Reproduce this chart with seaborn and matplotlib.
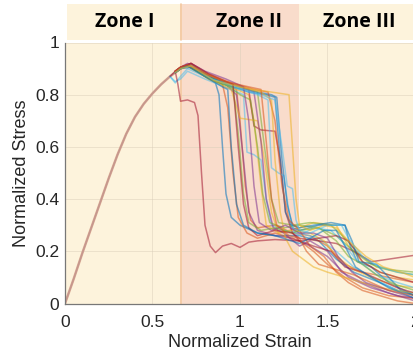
import numpy as np
import pandas as pd
import matplotlib
matplotlib.use("Agg")
import matplotlib.pyplot as plt
from matplotlib.patches import Rectangle
import seaborn as sns

# ---------------- data ----------------
elastic_strain = [0.0, 0.05, 0.10, 0.15, 0.20, 0.25, 0.30, 0.35, 0.40, 0.45, 0.50, 0.55, 0.60, 0.63, 0.66]
elastic_stress = [0.0, 0.095, 0.195, 0.29, 0.385, 0.48, 0.57, 0.65, 0.715, 0.765, 0.805, 0.84, 0.87, 0.885, 0.90]

strain_01 = [0.63, 0.66, 0.70, 0.78, 0.86, 0.88, 0.90, 0.92, 0.95, 1.00, 1.10, 1.20, 1.34, 1.45, 1.55, 1.65, 1.80, 1.90, 2.00]
stress_01 = [0.885, 0.90, 0.915, 0.88, 0.845, 0.80, 0.60, 0.42, 0.33, 0.30, 0.27, 0.26, 0.26, 0.24, 0.17, 0.12, 0.08, 0.05, 0.03]
strain_02 = [0.63, 0.66, 0.72, 0.80, 0.92, 0.98, 1.00, 1.03, 1.06, 1.10, 1.20, 1.30, 1.40, 1.50, 1.60, 1.70, 1.85, 2.00]
stress_02 = [0.89, 0.905, 0.92, 0.88, 0.84, 0.82, 0.70, 0.45, 0.32, 0.29, 0.30, 0.27, 0.26, 0.22, 0.15, 0.12, 0.10, 0.08]
strain_03 = [0.63, 0.66, 0.71, 0.80, 0.95, 1.05, 1.08, 1.12, 1.15, 1.22, 1.34, 1.42, 1.55, 1.62, 1.70, 1.80, 1.90, 2.00]
stress_03 = [0.885, 0.90, 0.91, 0.87, 0.83, 0.80, 0.70, 0.45, 0.30, 0.27, 0.29, 0.31, 0.30, 0.22, 0.16, 0.12, 0.10, 0.09]
strain_04 = [0.63, 0.66, 0.70, 0.78, 0.90, 0.98, 1.02, 1.05, 1.10, 1.20, 1.30, 1.40, 1.50, 1.62, 1.75, 1.90, 2.00]
stress_04 = [0.89, 0.905, 0.92, 0.89, 0.85, 0.80, 0.55, 0.35, 0.28, 0.26, 0.25, 0.22, 0.18, 0.10, 0.06, 0.03, 0.02]
strain_05 = [0.63, 0.66, 0.72, 0.82, 0.95, 1.10, 1.14, 1.18, 1.22, 1.30, 1.40, 1.52, 1.60, 1.68, 1.78, 1.90, 2.00]
stress_05 = [0.885, 0.90, 0.91, 0.86, 0.83, 0.81, 0.60, 0.40, 0.31, 0.30, 0.31, 0.30, 0.25, 0.19, 0.14, 0.12, 0.11]
strain_06 = [0.60, 0.63, 0.66, 0.70, 0.80, 0.95, 1.02, 1.04, 1.08, 1.12, 1.15, 1.18, 1.25, 1.34, 1.45, 1.55, 1.65, 1.78, 1.90, 2.00]
stress_06 = [0.87, 0.85, 0.86, 0.89, 0.86, 0.82, 0.80, 0.58, 0.57, 0.55, 0.40, 0.30, 0.28, 0.27, 0.25, 0.20, 0.14, 0.09, 0.05, 0.04]
strain_07 = [0.63, 0.66, 0.72, 0.82, 0.95, 1.05, 1.08, 1.12, 1.20, 1.23, 1.26, 1.30, 1.34, 1.45, 1.55, 1.65, 1.75, 1.85, 2.00]
stress_07 = [0.89, 0.905, 0.915, 0.87, 0.84, 0.82, 0.68, 0.665, 0.66, 0.55, 0.35, 0.27, 0.25, 0.24, 0.23, 0.20, 0.16, 0.17, 0.185]
strain_08 = [0.63, 0.66, 0.71, 0.80, 0.92, 1.05, 1.15, 1.20, 1.23, 1.26, 1.30, 1.34, 1.45, 1.60, 1.63, 1.67, 1.75, 1.85, 2.00]
stress_08 = [0.885, 0.90, 0.915, 0.88, 0.84, 0.81, 0.80, 0.79, 0.55, 0.35, 0.29, 0.28, 0.30, 0.30, 0.22, 0.16, 0.14, 0.08, 0.03]
strain_09 = [0.63, 0.66, 0.70, 0.80, 0.90, 0.93, 0.96, 0.99, 1.04, 1.10, 1.20, 1.34, 1.42, 1.50, 1.60, 1.70, 1.85, 2.00]
stress_09 = [0.89, 0.90, 0.91, 0.87, 0.84, 0.75, 0.50, 0.33, 0.27, 0.25, 0.27, 0.24, 0.20, 0.15, 0.10, 0.06, 0.03, 0.02]
strain_10 = [0.63, 0.66, 0.72, 0.82, 0.95, 1.00, 1.10, 1.14, 1.18, 1.22, 1.30, 1.40, 1.48, 1.55, 1.65, 1.75, 1.88, 2.00]
stress_10 = [0.89, 0.905, 0.91, 0.86, 0.82, 0.71, 0.70, 0.55, 0.35, 0.27, 0.28, 0.27, 0.24, 0.18, 0.13, 0.10, 0.07, 0.06]
strain_11 = [0.63, 0.66, 0.72, 0.85, 1.00, 1.08, 1.12, 1.15, 1.19, 1.25, 1.34, 1.40, 1.50, 1.58, 1.70, 1.85, 2.00]
stress_11 = [0.885, 0.90, 0.915, 0.86, 0.83, 0.81, 0.62, 0.40, 0.29, 0.27, 0.22, 0.24, 0.20, 0.12, 0.08, 0.04, 0.01]
strain_12 = [0.63, 0.66, 0.70, 0.80, 0.92, 1.00, 1.06, 1.10, 1.13, 1.17, 1.25, 1.34, 1.45, 1.55, 1.65, 1.75, 1.85, 2.00]
stress_12 = [0.885, 0.90, 0.91, 0.875, 0.84, 0.80, 0.78, 0.60, 0.42, 0.31, 0.29, 0.30, 0.29, 0.26, 0.20, 0.15, 0.13, 0.12]
strain_13 = [0.60, 0.63, 0.66, 0.70, 0.80, 0.95, 1.10, 1.16, 1.18, 1.22, 1.25, 1.28, 1.31, 1.34, 1.42, 1.52, 1.58, 1.66, 1.78, 1.90, 2.00]
stress_13 = [0.87, 0.845, 0.87, 0.90, 0.87, 0.83, 0.80, 0.78, 0.52, 0.50, 0.49, 0.35, 0.27, 0.26, 0.29, 0.28, 0.24, 0.17, 0.11, 0.08, 0.06]
strain_14 = [0.60, 0.63, 0.645, 0.66, 0.70, 0.74, 0.76, 0.78, 0.80, 0.83, 0.86, 0.90, 0.95, 1.00, 1.05, 1.10, 1.20, 1.34, 1.45, 1.55, 1.62, 1.70, 1.80, 1.90, 2.00]
stress_14 = [0.87, 0.89, 0.84, 0.775, 0.78, 0.77, 0.72, 0.50, 0.30, 0.22, 0.195, 0.22, 0.23, 0.215, 0.235, 0.24, 0.245, 0.24, 0.25, 0.26, 0.24, 0.16, 0.12, 0.10, 0.08]
strain_15 = [0.63, 0.66, 0.72, 0.85, 1.00, 1.10, 1.18, 1.21, 1.24, 1.27, 1.30, 1.34, 1.42, 1.52, 1.60, 1.64, 1.68, 1.78, 1.85, 1.92, 2.00]
stress_15 = [0.885, 0.90, 0.905, 0.86, 0.83, 0.81, 0.80, 0.79, 0.55, 0.38, 0.30, 0.29, 0.30, 0.31, 0.30, 0.24, 0.16, 0.15, 0.10, 0.05, 0.03]
strain_16 = [0.63, 0.66, 0.72, 0.82, 0.95, 1.08, 1.16, 1.20, 1.24, 1.28, 1.34, 1.40, 1.48, 1.55, 1.62, 1.70, 1.80, 1.90, 2.00]
stress_16 = [0.89, 0.905, 0.92, 0.88, 0.845, 0.82, 0.81, 0.70, 0.45, 0.32, 0.28, 0.22, 0.18, 0.12, 0.08, 0.05, 0.03, 0.01, 0.0]
strain_17 = [0.63, 0.66, 0.72, 0.82, 0.95, 1.05, 1.12, 1.18, 1.20, 1.23, 1.26, 1.30, 1.34, 1.42, 1.50, 1.60, 1.70, 1.80, 2.00]
stress_17 = [0.885, 0.90, 0.915, 0.875, 0.84, 0.82, 0.81, 0.78, 0.55, 0.35, 0.25, 0.20, 0.18, 0.14, 0.12, 0.10, 0.08, 0.06, 0.04]
strain_18 = [0.63, 0.66, 0.72, 0.80, 0.92, 1.02, 1.05, 1.08, 1.11, 1.18, 1.26, 1.34, 1.42, 1.50, 1.56, 1.64, 1.72, 1.85, 2.00]
stress_18 = [0.89, 0.905, 0.92, 0.89, 0.86, 0.83, 0.70, 0.45, 0.31, 0.28, 0.30, 0.27, 0.27, 0.25, 0.18, 0.12, 0.08, 0.05, 0.02]
strain_19 = [0.63, 0.66, 0.70, 0.80, 0.90, 0.96, 0.99, 1.02, 1.05, 1.12, 1.20, 1.30, 1.34, 1.45, 1.55, 1.62, 1.70, 1.80, 1.90, 2.00]
stress_19 = [0.885, 0.90, 0.91, 0.87, 0.84, 0.83, 0.65, 0.42, 0.31, 0.28, 0.29, 0.27, 0.28, 0.29, 0.24, 0.18, 0.15, 0.10, 0.07, 0.05]
strain_20 = [0.63, 0.66, 0.72, 0.84, 0.98, 1.12, 1.20, 1.24, 1.27, 1.30, 1.32, 1.34, 1.40, 1.50, 1.58, 1.62, 1.70, 1.80, 1.90, 2.00]
stress_20 = [0.885, 0.90, 0.91, 0.86, 0.83, 0.80, 0.78, 0.60, 0.45, 0.44, 0.32, 0.28, 0.27, 0.30, 0.30, 0.25, 0.18, 0.14, 0.12, 0.11]
strain_21 = [0.63, 0.66, 0.72, 0.82, 0.92, 0.96, 0.99, 1.02, 1.05, 1.10, 1.20, 1.30, 1.34, 1.42, 1.52, 1.60, 1.70, 1.80, 1.90, 2.00]
stress_21 = [0.89, 0.905, 0.92, 0.88, 0.85, 0.84, 0.60, 0.38, 0.29, 0.26, 0.28, 0.27, 0.24, 0.22, 0.20, 0.14, 0.12, 0.09, 0.06, 0.04]
strain_22 = [0.63, 0.66, 0.70, 0.80, 0.90, 0.93, 0.95, 0.98, 1.02, 1.10, 1.20, 1.34, 1.40, 1.48, 1.55, 1.60, 1.66, 1.75, 1.85, 2.00]
stress_22 = [0.885, 0.90, 0.91, 0.87, 0.83, 0.82, 0.60, 0.38, 0.30, 0.27, 0.26, 0.23, 0.25, 0.28, 0.28, 0.22, 0.14, 0.10, 0.06, 0.02]
strain_23 = [0.63, 0.66, 0.70, 0.80, 0.92, 1.05, 1.12, 1.15, 1.18, 1.21, 1.28, 1.34, 1.38, 1.45, 1.55, 1.65, 1.75, 1.85, 2.00]
stress_23 = [0.89, 0.905, 0.915, 0.88, 0.85, 0.83, 0.82, 0.62, 0.40, 0.30, 0.26, 0.25, 0.20, 0.15, 0.13, 0.11, 0.08, 0.05, 0.03]
strain_24 = [0.63, 0.66, 0.72, 0.85, 1.00, 1.08, 1.28, 1.30, 1.32, 1.34, 1.40, 1.48, 1.55, 1.62, 1.72, 1.82, 1.92, 2.00]
stress_24 = [0.885, 0.90, 0.91, 0.855, 0.83, 0.82, 0.80, 0.60, 0.40, 0.30, 0.28, 0.30, 0.29, 0.24, 0.18, 0.14, 0.12, 0.10]

zone_labels = ["Zone I", "Zone II", "Zone III"]
zone_edges = [0.0, 0.66, 1.34, 2.0]
x_ticks = [0, 0.5, 1, 1.5, 2]
x_tick_labels = ["0", "0.5", "1", "1.5", "2"]
y_ticks = [0, 0.2, 0.4, 0.6, 0.8, 1]
y_tick_labels = ["0", "0.2", "0.4", "0.6", "0.8", "1"]

curves = [
    (strain_01, stress_01), (strain_02, stress_02), (strain_03, stress_03), (strain_04, stress_04),
    (strain_05, stress_05), (strain_06, stress_06), (strain_07, stress_07), (strain_08, stress_08),
    (strain_09, stress_09), (strain_10, stress_10), (strain_11, stress_11), (strain_12, stress_12),
    (strain_13, stress_13), (strain_14, stress_14), (strain_15, stress_15), (strain_16, stress_16),
    (strain_17, stress_17), (strain_18, stress_18), (strain_19, stress_19), (strain_20, stress_20),
    (strain_21, stress_21), (strain_22, stress_22), (strain_23, stress_23), (strain_24, stress_24),
]

rows = []
for i, (sx, sy) in enumerate(curves):
    for order, (a, b) in enumerate(zip(sx, sy)):
        rows.append({"curve": i, "order": order, "strain": a, "stress": b})
df = pd.DataFrame(rows)
df_el = pd.DataFrame({"strain": elastic_strain, "stress": elastic_stress})

# ---------------- style ----------------
sns.set_theme(style="white")
plt.rcParams["font.family"] = ["Liberation Sans", "DejaVu Sans"]

matlab = ["#0072BD", "#D95319", "#EDB120", "#7E2F8E", "#77AC30", "#4DBEEE", "#A2142F"]
palette = [matlab[i % 7] for i in range(len(curves))]

cream = "#FDF3DC"
salmon = "#F9DCCB"
text_col = "#262626"

fig = plt.figure(figsize=(4.14, 3.60), dpi=100)
ax = fig.add_axes([65 / 414, 56.5 / 360, 350 / 414, 261 / 360])

band_cols = [cream, salmon, cream]
for k in range(3):
    ax.axvspan(zone_edges[k], zone_edges[k + 1], color=band_cols[k], zorder=0, lw=0)

ax.grid(True, color="#d8cdb8", lw=0.6, alpha=0.55, zorder=0.5)
ax.set_axisbelow(True)

# shared elastic branch (all specimens overlap here)
sns.lineplot(data=df_el, x="strain", y="stress", estimator=None, sort=False,
             color="#D9A892", lw=1.8, ax=ax, zorder=2)
sns.lineplot(data=df_el, x="strain", y="stress", estimator=None, sort=False,
             color="#C4968E", lw=1.0, ax=ax, zorder=2)

sns.lineplot(data=df, x="strain", y="stress", units="curve", hue="curve",
             estimator=None, sort=False, palette=palette, legend=False,
             lw=1.1, alpha=0.55, ax=ax, zorder=2)

ax.axvline(0.665, color="#F3C9A0", lw=1.2, zorder=1)
ax.axvline(1.34, color="#FFF8EE", lw=0.8, zorder=1)

# header band above the axes
hy0, hy1 = 1.008, 1.147
hx = [0.011, 0.66, 1.34, 2.0]
for k in range(3):
    ax.add_patch(Rectangle((hx[k], hy0), hx[k + 1] - hx[k], hy1 - hy0,
                           transform=ax.transData, clip_on=False,
                           facecolor=band_cols[k], edgecolor="none", zorder=0))
ax.plot([0.665, 0.665], [hy0, hy1], color="#F3C9A0", lw=1.2, clip_on=False, zorder=1)
label_x = [0.343, 1.054, 1.68]
for k in range(3):
    ax.text(label_x[k], 1.078, zone_labels[k], ha="center", va="center",
            fontsize=14, fontweight="bold", family=["Open Sans", "DejaVu Sans"],
            color="black", clip_on=False)

ax.set_xlim(0, 2)
ax.set_ylim(0, 1)
ax.set_xticks(x_ticks)
ax.set_xticklabels(x_tick_labels)
ax.set_yticks(y_ticks)
ax.set_yticklabels(y_tick_labels)
ax.tick_params(direction="in", length=3.5, width=0.8, colors="#555555",
               labelcolor=text_col, labelsize=12.5)
ax.tick_params(axis="x", pad=8)
ax.tick_params(axis="y", pad=4)
for s in ["top", "right"]:
    ax.spines[s].set_visible(False)
for s in ["left", "bottom"]:
    ax.spines[s].set_color("#777777")
    ax.spines[s].set_linewidth(0.9)

ax.set_xlabel("Normalized Strain", fontsize=13, color=text_col, labelpad=3)
ax.set_ylabel("Normalized Stress", fontsize=13, color=text_col, labelpad=4)

fig.savefig("out.png", dpi=100, facecolor="white")
